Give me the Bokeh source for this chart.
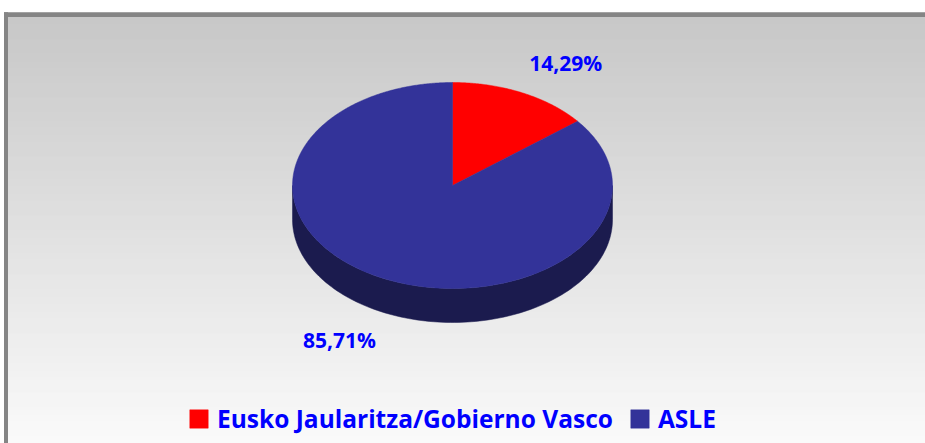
import numpy as np
from bokeh.plotting import figure
from bokeh.models import Range1d, ColumnDataSource, Legend, LegendItem
from bokeh.core.properties import value
from bokeh.embed import file_html
from bokeh.resources import INLINE

# ---- data ----
categories = ["Eusko Jaularitza/Gobierno Vasco", "ASLE"]
counts = [1, 6]
colors = ["#ff0000", "#333399"]
side_colors = ["#8a0000", "#1b1b4e"]

# ---- layout / style ----
W, H = 925, 443
CX, CY, RX, RY, DEPTH = 452, 185, 160, 103, 34
FONT = "Open Sans"

p = figure(width=W, height=H, x_range=Range1d(0, W), y_range=Range1d(H, 0),
           output_backend="svg", toolbar_location=None, min_border=0)
p.axis.visible = False
p.grid.visible = False
p.outline_line_color = None
p.background_fill_color = "white"
p.border_fill_color = "white"

# background gradient (grey to near white)
ys = np.arange(16, H + 1, 1.0)
t = (ys - 16) / (H - 16)
g = (192 + t * (250 - 192)).astype(int)
gcols = ["#%02x%02x%02x" % (v, v, v) for v in g]
p.quad(left=7.5, right=W, top=ys, bottom=ys + 1.2, fill_color=gcols, line_color=None)
# frame border (top and left)
p.quad(left=[3.5, 3.5], right=[W, 7.5], top=[11.7, 11.7], bottom=[16.5, H],
       fill_color="#858585", line_color=None)

# ---- 3D pie ----
total = float(sum(counts))
fracs = [c / total for c in counts]
start = 90.0
angles = []
a = start
for f in fracs:
    a0 = a - 360 * f  # clockwise
    angles.append((a0, a))
    a = a0

def pt(deg, dz=0.0):
    r = np.radians(deg)
    return CX + RX * np.cos(r), CY - RY * np.sin(r) + dz

# sides (front half: 180..360 degrees)
side_xs, side_ys, side_c = [], [], []
for (a0, a1), sc in zip(angles, side_colors):
    for k in range(-1, 2):
        lo = max(a0 + 360 * k, 180.0)
        hi = min(a1 + 360 * k, 360.0)
        if hi > lo:
            tt = np.linspace(lo, hi, 120)
            tx, ty = pt(tt)
            bx, by = pt(tt[::-1], DEPTH)
            side_xs.append(list(np.concatenate([tx, bx])))
            side_ys.append(list(np.concatenate([ty, by])))
            side_c.append(sc)
p.patches(side_xs, side_ys, fill_color=side_c, line_color=side_c, line_width=0.5)

# top faces
top_xs, top_ys = [], []
for (a0, a1) in angles:
    n = max(int((a1 - a0) * 2), 10)
    tt = np.linspace(a1, a0, n)
    x, y = pt(tt)
    top_xs.append([CX] + list(x))
    top_ys.append([CY] + list(y))
src = ColumnDataSource(dict(xs=top_xs, ys=top_ys, color=colors, label=categories))
r_top = p.patches("xs", "ys", source=src, fill_color="color", line_color="color", line_width=0.5)

# data labels
lx, ly, lt = [], [], []
for (a0, a1), f in zip(angles, fracs):
    m = np.radians((a0 + a1) / 2)
    x = CX + 1.63 * RX * np.cos(m)
    y = CY - 1.31 * RY * np.sin(m) + (DEPTH if np.sin(m) < 0 else 0) - 1
    lx.append(x); ly.append(y)
    lt.append(("%.2f" % (100 * f)).replace(".", ",") + "%")
p.text(lx, ly, text=lt, text_font=value(FONT), text_font_style="bold",
       text_font_size="21px", text_color="#0000ff", text_align="center",
       text_baseline="middle")

# legend
items = [LegendItem(label=c, renderers=[r_top], index=i) for i, c in enumerate(categories)]
leg = Legend(items=items, orientation="horizontal", location=(187, 8),
             label_text_font=FONT, label_text_font_style="bold",
             label_text_font_size="24.5px", label_text_color="#0000ff",
             glyph_width=23, glyph_height=23, label_standoff=7, spacing=15,
             padding=0, margin=0, background_fill_alpha=0, border_line_color=None)
p.add_layout(leg, "center")

open("out.html", "w").write(file_html(p, INLINE))
